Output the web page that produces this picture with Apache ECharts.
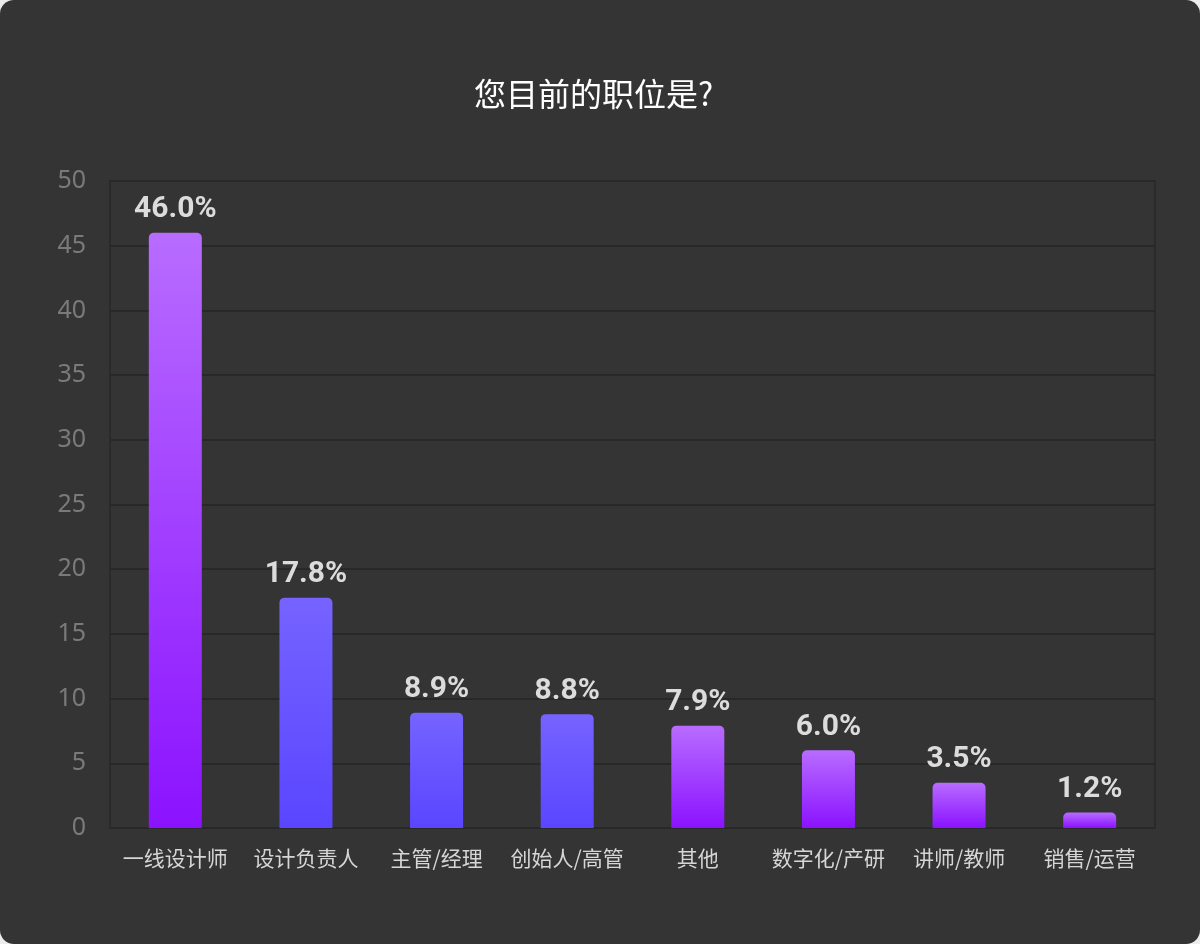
<!DOCTYPE html>
<html>
<head>
<meta charset="utf-8">
<script src="https://cdn.jsdelivr.net/npm/echarts@6/dist/echarts.min.js"></script>
<style>
  html, body { margin: 0; padding: 0; background: #ececec; }
  #main { width: 1200px; height: 944px; background: #343434; border-radius: 14px; overflow: hidden; }
</style>
</head>
<body>
<div id="main"></div>
<script>
// 数据
var categories = ['一线设计师', '设计负责人', '主管/经理', '创始人/高管', '其他', '数字化/产研', '讲师/教师', '销售/运营'];
var values = [46.0, 17.8, 8.9, 8.8, 7.9, 6.0, 3.5, 1.2];
var titleText = '您目前的职位是?';

// 样式
var purple = new echarts.graphic.LinearGradient(0, 0, 0, 1, [
	{ offset: 0, color: '#b86cff' },
	{ offset: 1, color: '#8b12ff' }
]);
var blue = new echarts.graphic.LinearGradient(0, 0, 0, 1, [
	{ offset: 0, color: '#7663ff' },
	{ offset: 1, color: '#5a46ff' }
]);
var blueIdx = [1, 2, 3];

var myChart = echarts.init(document.getElementById('main'));

var option = {
	backgroundColor: 'transparent',
	title: {
		text: titleText,
		left: 469,
		top: 73,
		textStyle: {
			color: '#ffffff',
			fontSize: 32,
			fontWeight: 'normal',
			fontFamily: 'Noto Sans CJK SC'
		}
	},
	grid: {
		left: 110,
		right: 45,
		top: 181,
		bottom: 116,
		show: true,
		borderColor: '#2a2a2a',
		borderWidth: 2,
		backgroundColor: 'transparent'
	},
	xAxis: {
		type: 'category',
		data: categories,
		axisLine: { show: false },
		axisTick: { show: false },
		axisLabel: {
			color: '#d6d6d6',
			fontSize: 21,
			margin: 20,
			interval: 0,
			fontFamily: 'Noto Sans CJK SC'
		}
	},
	yAxis: {
		type: 'value',
		min: 0,
		max: 50,
		interval: 5,
		axisLine: { show: false },
		axisTick: { show: false },
		axisLabel: {
			color: '#7a7a7a',
			fontSize: 25,
			margin: 24,
			fontFamily: 'Noto Sans'
		},
		splitLine: {
			lineStyle: { color: '#282828', width: 2 }
		}
	},
	series: [
		{
			type: 'bar',
			data: values,
			barWidth: 53,
			itemStyle: {
				borderRadius: [5, 5, 0, 0],
				color: function (p) {
					return blueIdx.indexOf(p.dataIndex) >= 0 ? blue : purple;
				}
			},
			label: {
				show: true,
				position: 'top',
				distance: 8,
				formatter: function (p) { return p.value.toFixed(1) + '%'; },
				color: '#dcdcdc',
				fontSize: 30,
				fontWeight: 'bold',
				fontFamily: 'Roboto'
			}
		}
	]
};

myChart.setOption(option);
</script>
</body>
</html>
